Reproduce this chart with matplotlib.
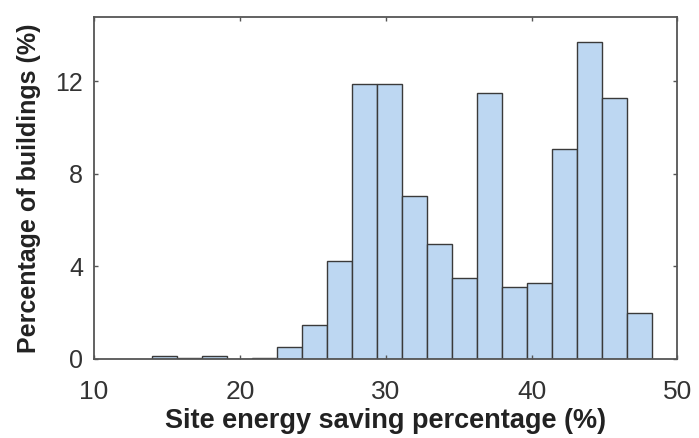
import matplotlib
matplotlib.use("Agg")
import matplotlib.pyplot as plt
import numpy as np

plt.rcParams['font.family'] = ['Liberation Sans', 'DejaVu Sans']

# histogram bins (20 bins)
bin_start = 13.96
bin_width = 1.715
pct_buildings = [0.13, 0.03, 0.13, 0.02, 0.03, 0.52, 1.47, 4.23, 11.87, 11.87,
                 7.04, 4.97, 3.5, 11.48, 3.11, 3.28, 9.07, 13.71, 11.29, 1.99]

x_ticks = [10, 20, 30, 40, 50]
y_ticks = [0, 4, 8, 12]

edges = bin_start + bin_width * np.arange(len(pct_buildings) + 1)

fig = plt.figure(figsize=(6.99, 4.38), dpi=100)
ax = fig.add_axes([0.1345, 0.1804, 0.8345, 0.7815])

ax.bar(edges[:-1], pct_buildings, width=bin_width, align='edge',
       color='#bdd7f2', edgecolor='#3a3a3a', linewidth=1.0)

ax.set_xlim(10, 50)
ax.set_ylim(0, 14.8)
ax.set_xticks(x_ticks)
ax.set_yticks(y_ticks)

for s in ax.spines.values():
    s.set_color('#555555')
    s.set_linewidth(1.3)
ax.tick_params(direction='in', length=3, width=1, colors='#555555',
               labelcolor='#333333', labelsize=18, top=True, right=True)
ax.tick_params(axis='x', pad=15, labelsize=19)
ax.tick_params(axis='y', pad=8)

ax.set_xlabel('Site energy saving percentage (%)', fontsize=19.5,
              fontweight='bold', color='#222222', labelpad=3)
ax.set_ylabel('Percentage of buildings (%)', fontsize=18,
              fontweight='bold', color='#222222', labelpad=10)

fig.savefig('out.png', dpi=100)
